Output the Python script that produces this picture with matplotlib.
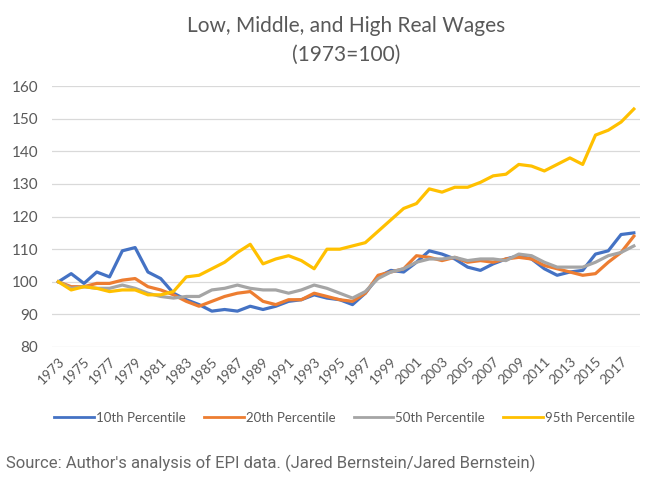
import matplotlib.pyplot as plt
import numpy as np

years = np.arange(1973, 2019)

p10 = [100, 102.5, 99.5, 103, 101.5, 109.5, 110.5, 103, 101, 96.5,
       94.5, 93, 91, 91.5, 91, 92.5, 91.5, 92.5, 94, 94.5,
       96, 95, 94.5, 93, 96.5, 101.5, 103.5, 103, 106, 109.5,
       108.5, 107, 104.5, 103.5, 105.5, 107, 108, 107, 104, 102,
       103, 103.5, 108.5, 109.5, 114.5, 115]
p20 = [100, 98.5, 98.5, 99.5, 99.5, 100.5, 101, 98.5, 97.5, 96,
       94, 92.5, 94, 95.5, 96.5, 97, 94, 93, 94.5, 94.5,
       96.5, 95.5, 94.5, 94, 96.5, 102, 103, 104, 108, 107.5,
       106.5, 107.5, 106, 106.5, 106, 107, 107.5, 107, 105, 104,
       103, 102, 102.5, 106, 109, 114]
p50 = [100, 98, 98.5, 98, 98, 99, 98, 96.5, 95.5, 95,
       95.5, 95.5, 97.5, 98, 99, 98, 97.5, 97.5, 96.5, 97.5,
       99, 98, 96.5, 95, 97, 101, 103, 104, 106, 107,
       107, 107.5, 106.5, 107, 107, 106.5, 108.5, 108, 106, 104.5,
       104.5, 104.5, 106, 108, 109, 111]
p95 = [100, 97.5, 98.5, 98, 97, 97.5, 97.5, 96, 96, 97,
       101.5, 102, 104, 106, 109, 111.5, 105.5, 107, 108, 106.5,
       104, 110, 110, 111, 112, 115.5, 119, 122.5, 124, 128.5,
       127.5, 129, 129, 130.5, 132.5, 133, 136, 135.5, 134, 136,
       138, 136, 145, 146.5, 149, 153]

series = [("10th Percentile", p10, "#4472C4"),
          ("20th Percentile", p20, "#ED7D31"),
          ("50th Percentile", p50, "#A5A5A5"),
          ("95th Percentile", p95, "#FFC000")]

text_col = "#595959"
plt.rcParams['font.family'] = ['Lato', 'DejaVu Sans']

fig = plt.figure(figsize=(6.5, 4.87), dpi=100)
ax = fig.add_axes([0.08, 0.2875, 0.905, 0.5355])

for name, vals, col in series:
    ax.plot(years, vals, color=col, lw=2.3, label=name, solid_joinstyle='round')

ax.set_ylim(80, 160)
ax.set_yticks(range(80, 161, 10))
ax.set_xlim(1972.5, 2018.5)
ax.set_xticks(years[::2])
ax.set_xticklabels([str(y) for y in years[::2]], rotation=45, ha='right',
                   rotation_mode='anchor', fontsize=10, color=text_col)
ax.tick_params(axis='y', labelsize=11, labelcolor=text_col, length=0, pad=10)
ax.tick_params(axis='x', length=0, pad=6)
ax.grid(axis='y', color='#D9D9D9', lw=0.9)
ax.set_axisbelow(True)
for s in ax.spines.values():
    s.set_visible(False)

fig.text(0.532, 0.947, "Low, Middle, and High Real Wages", ha='center', va='center',
         fontsize=15, color=text_col)
fig.text(0.532, 0.888, "(1973=100)", ha='center', va='center',
         fontsize=15, color=text_col)

leg = fig.legend(loc='center', bbox_to_anchor=(0.53, 0.142), ncol=4, frameon=False,
                 prop={'family': ['Liberation Sans Narrow', 'Lato'], 'size': 9.5},
                 handlelength=3.0, handletextpad=0.15, columnspacing=1.4,
                 labelcolor=text_col)
for h in leg.get_lines():
    h.set_linewidth(2.0)

fig.text(0.01, 0.049, "Source: Author's analysis of EPI data. (Jared Bernstein/Jared Bernstein)",
         fontsize=12, color='#666666', ha='left', va='center', family=['Roboto', 'DejaVu Sans'])

fig.savefig("out.png", dpi=100, facecolor='white')
